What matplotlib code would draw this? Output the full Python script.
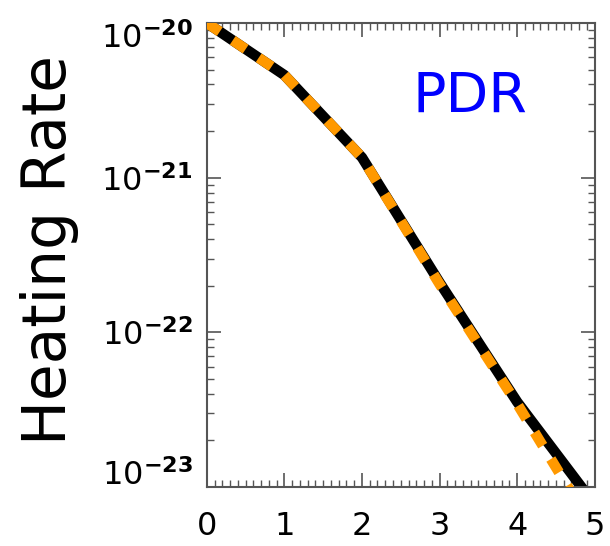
import numpy as np
import matplotlib.pyplot as plt
from matplotlib.ticker import MultipleLocator, LogLocator, NullFormatter

# values
x = [0, 1, 2, 3, 4, 5]
heat_black = [1.0e-20, 4.6e-21, 1.35e-21, 2.1e-22, 3.55e-23, 7.7e-24]
heat_orange = [1.0e-20, 4.6e-21, 1.35e-21, 2.05e-22, 3.45e-23, 5.2e-24]
ydecades = [-20, -21, -22, -23]

plt.rcParams['font.family'] = ['DejaVu Sans']
plt.rcParams['mathtext.default'] = 'regular'

fig = plt.figure(figsize=(6.1, 5.46), dpi=100)
ax = fig.add_axes([0.339, 0.108, 0.636, 0.85])

ax.plot(x, heat_black, color='black', lw=7.5, solid_capstyle='butt', zorder=2)
ax.plot(x, heat_orange, color='#ff9900', lw=7.5, dashes=(1.5, 1.5), zorder=3)

ax.set_yscale('log')
ax.set_xlim(0, 5)
ax.set_ylim(1e-23, 1e-20)

ax.xaxis.set_major_locator(MultipleLocator(1))
ax.xaxis.set_minor_locator(MultipleLocator(0.1))
ax.yaxis.set_major_locator(LogLocator(base=10, numticks=10))
ax.yaxis.set_minor_locator(LogLocator(base=10, subs=np.arange(2, 10), numticks=20))
ax.yaxis.set_minor_formatter(NullFormatter())
ax.yaxis.set_major_formatter(NullFormatter())

ax.tick_params(which='both', direction='in', top=True, right=True, color='#555555')
ax.tick_params(which='major', length=10, width=1.2, labelsize=23)
ax.tick_params(axis='x', which='major', pad=17)
ax.tick_params(which='minor', length=5, width=1)
for s in ax.spines.values():
    s.set_color('#555555')
    s.set_linewidth(1.5)

# y tick labels: end ones pulled inside the axis range, like the original
for d in ydecades:
    if d == ydecades[0]:
        dy = -25
    elif d == ydecades[-1]:
        dy = 2
    else:
        dy = -13
    ax.annotate('$10^{\\mathbf{%d}}$' % d, xy=(0, 10.0 ** d),
                xycoords=('axes fraction', 'data'),
                xytext=(-14 * 0.72, dy * 0.72), textcoords='offset points',
                ha='right', va='baseline', fontsize=23, annotation_clip=False)

ax.text(-0.405, 0.51, 'Heating Rate', fontsize=43, rotation=90,
        ha='center', va='center', transform=ax.transAxes)
ax.text(0.678, 0.84, 'PDR', color='#0000ff', fontsize=40, ha='center', va='center',
        transform=ax.transAxes)

fig.savefig('out.png', dpi=100)
